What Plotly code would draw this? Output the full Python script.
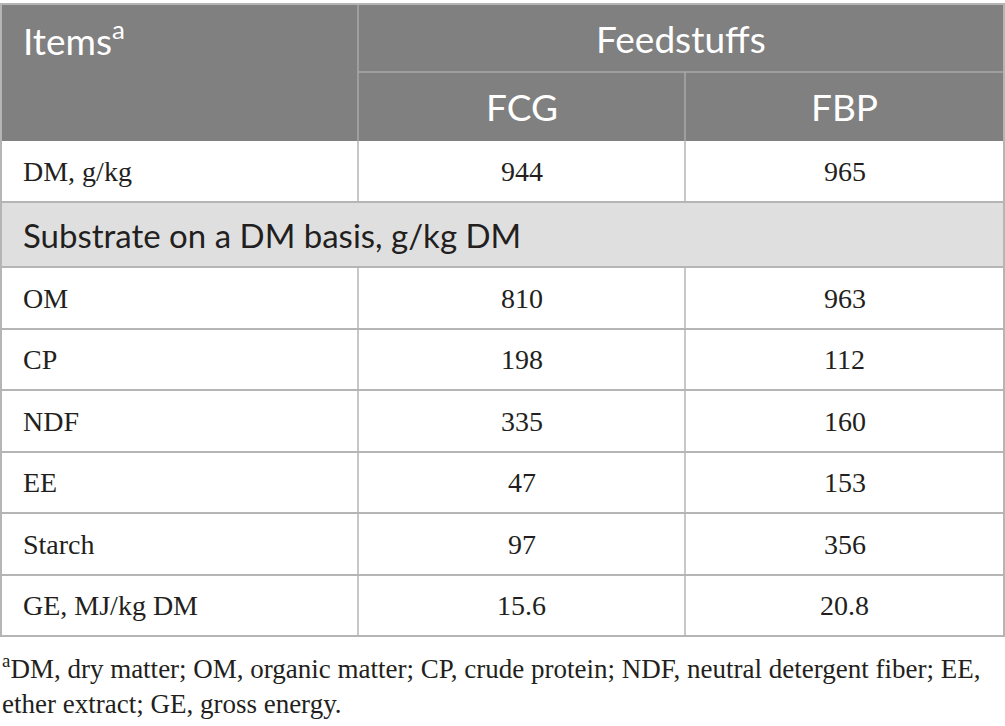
import plotly.graph_objects as go

# table content
items = ["DM, g/kg", "OM", "CP", "NDF", "EE", "Starch", "GE, MJ/kg DM"]
fcg = ["944", "810", "198", "335", "47", "97", "15.6"]
fbp = ["965", "963", "112", "160", "153", "356", "20.8"]
groups = ["FCG", "FBP"]
group_title = "Feedstuffs"
items_title = "Items<sup>a</sup>"
section_label = "Substrate on a DM basis, g/kg DM"
section_after = 1  # section row comes after the first item
footnote = ("<sup>a</sup>DM, dry matter; OM, organic matter; CP, crude protein; NDF, neutral detergent fiber; EE,"
            "<br>ether extract; GE, gross energy.")

# layout (pixels)
W, H = 1005, 726
col_edges = [0, 358, 685, 1004]
top = 4
head_rows = [68, 69]
body_h = [61, 65, 62, 61, 62, 61, 62, 61]

HEAD_BG = "#7f807f"
HEAD_LINE = "#a8a8a8"
SEC_BG = "#e0dfe0"
LINE = "#b5b5b5"
TXT = "#231f20"
SANS = "Lato"
SERIF = "Liberation Serif"

fig = go.Figure()
shapes = []
annots = []

# header block
head_bot = top + sum(head_rows)
mid = top + head_rows[0]
shapes.append(dict(type="rect", x0=col_edges[0], x1=col_edges[-1], y0=top, y1=head_bot,
                   fillcolor=HEAD_BG, line=dict(width=0), layer="below"))
shapes.append(dict(type="line", x0=col_edges[1], x1=col_edges[-1], y0=mid, y1=mid,
                   line=dict(color=HEAD_LINE, width=1.5)))
shapes.append(dict(type="line", x0=col_edges[1], x1=col_edges[1], y0=top, y1=head_bot,
                   line=dict(color=HEAD_LINE, width=1.5)))
shapes.append(dict(type="line", x0=col_edges[2], x1=col_edges[2], y0=mid, y1=head_bot,
                   line=dict(color=HEAD_LINE, width=1.5)))

hfont = dict(family=SANS, size=37, color="white")
annots.append(dict(x=col_edges[0] + 21, y=top + head_rows[0] / 2, text=items_title, xanchor="left",
                   yanchor="middle", showarrow=False, font=hfont))
annots.append(dict(x=(col_edges[1] + col_edges[-1]) / 2, y=top + head_rows[0] / 2, text=group_title,
                   xanchor="center", yanchor="middle", showarrow=False, font=hfont))
for i, g in enumerate(groups):
    annots.append(dict(x=(col_edges[i + 1] + col_edges[i + 2]) / 2, y=mid + head_rows[1] / 2, text=g,
                       xanchor="center", yanchor="middle", showarrow=False, font=hfont))

# body rows
rows = []
for i in range(len(items)):
    if i == section_after:
        rows.append(("section", section_label, None, None))
    rows.append(("data", items[i], fcg[i], fbp[i]))

y = head_bot
for k, (kind, label, a, b) in enumerate(rows):
    h = body_h[k]
    yc = y + h / 2
    if kind == "section":
        shapes.append(dict(type="rect", x0=col_edges[0], x1=col_edges[-1], y0=y, y1=y + h,
                           fillcolor=SEC_BG, line=dict(width=0), layer="below"))
        annots.append(dict(x=col_edges[0] + 21, y=yc, text=label, xanchor="left", yanchor="middle",
                           showarrow=False, font=dict(family=SANS, size=33, color=TXT)))
    else:
        for c in (1, 2):
            shapes.append(dict(type="line", x0=col_edges[c], x1=col_edges[c], y0=y, y1=y + h,
                               line=dict(color=LINE, width=1.5)))
        annots.append(dict(x=col_edges[0] + 21, y=yc, text=label, xanchor="left", yanchor="middle",
                           showarrow=False, font=dict(family=SERIF, size=28, color=TXT)))
        for c, v in ((1, a), (2, b)):
            annots.append(dict(x=(col_edges[c] + col_edges[c + 1]) / 2, y=yc, text=v, xanchor="center",
                               yanchor="middle", showarrow=False,
                               font=dict(family=SERIF, size=28, color=TXT)))
    shapes.append(dict(type="line", x0=col_edges[0], x1=col_edges[-1], y0=y + h, y1=y + h,
                       line=dict(color=LINE, width=2)))
    y += h

# outer border
shapes.append(dict(type="rect", x0=col_edges[0] + 1, x1=col_edges[-1], y0=top, y1=y,
                   line=dict(color=LINE, width=2)))

annots.append(dict(x=0, y=y + 12, text=footnote, xanchor="left", yanchor="top", align="left",
                   showarrow=False, font=dict(family=SERIF, size=27, color=TXT)))

fig.update_layout(
    width=W, height=H,
    margin=dict(l=0, r=0, t=0, b=0),
    paper_bgcolor="white", plot_bgcolor="white",
    xaxis=dict(range=[0, W], visible=False, fixedrange=True),
    yaxis=dict(range=[H, 0], visible=False, fixedrange=True),
    shapes=shapes, annotations=annots, showlegend=False,
)

fig.write_html("out.html", config={"displayModeBar": False},
               post_script="document.body.style.margin='0';")
